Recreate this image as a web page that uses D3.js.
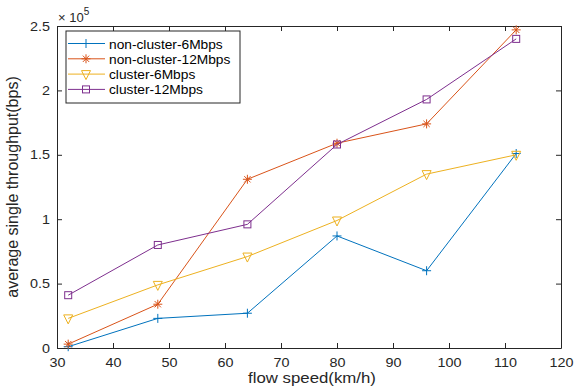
<!DOCTYPE html>
<html>
<head>
<meta charset="utf-8">
<script src="https://cdn.jsdelivr.net/npm/d3@7"></script>
<style>
  body { margin: 0; background: #fff; }
  text { font-family: "Liberation Sans", Arial, sans-serif; }
</style>
</head>
<body>
<div id="chart"></div>
<script>
var width = 575;
var height = 390;

// chart data (values in units of 1e5 bps)
var speeds = [32, 48, 64, 80, 96, 112];
var nonCluster6 = [0.01, 0.23, 0.27, 0.87, 0.60, 1.51];
var nonCluster12 = [0.03, 0.34, 1.31, 1.59, 1.74, 2.47];
var cluster6 = [0.23, 0.49, 0.71, 0.99, 1.35, 1.50];
var cluster12 = [0.41, 0.80, 0.96, 1.58, 1.93, 2.40];
var xTicks = [30, 40, 50, 60, 70, 80, 90, 100, 110, 120];
var yTicks = [0, 0.5, 1, 1.5, 2, 2.5];

var series = [
  {name: "non-cluster-6Mbps", values: nonCluster6, color: "#0072BD", marker: "plus"},
  {name: "non-cluster-12Mbps", values: nonCluster12, color: "#D95319", marker: "star"},
  {name: "cluster-6Mbps", values: cluster6, color: "#EDB120", marker: "tri"},
  {name: "cluster-12Mbps", values: cluster12, color: "#7E2F8E", marker: "square"}
];

var margin = {top: 26, right: 14, bottom: 42, left: 57};

var svg = d3.select("#chart").append("svg")
  .attr("width", width)
  .attr("height", height);

var x = d3.scaleLinear().domain([30, 120]).range([margin.left, width - margin.right]);
var y = d3.scaleLinear().domain([0, 2.5]).range([height - margin.bottom, margin.top]);

var axisColor = "#262626";

// axes, matlab style ticks pointing in
svg.append("g")
  .attr("transform", "translate(0," + y(0) + ")")
  .call(d3.axisBottom(x).tickValues(xTicks).tickSizeInner(-5).tickSizeOuter(0).tickPadding(10));
svg.append("g")
  .attr("transform", "translate(0," + y(2.5) + ")")
  .call(d3.axisTop(x).tickValues(xTicks).tickSizeInner(-5).tickSizeOuter(0).tickFormat(""));
svg.append("g")
  .attr("transform", "translate(" + x(30) + ",0)")
  .call(d3.axisLeft(y).tickValues(yTicks).tickSizeInner(-5).tickSizeOuter(0).tickPadding(6)
    .tickFormat(function(d) { return d; }));
svg.append("g")
  .attr("transform", "translate(" + x(120) + ",0)")
  .call(d3.axisRight(y).tickValues(yTicks).tickSizeInner(-5).tickSizeOuter(0).tickFormat(""));

svg.selectAll(".domain").attr("stroke", axisColor);
svg.selectAll(".tick line").attr("stroke", axisColor);
// the reference text is a little wider than tall, so stretch it sideways
svg.selectAll(".tick text").attr("fill", axisColor).style("font-size", "12.5px")
  .style("font-family", "'Liberation Sans', Arial, sans-serif")
  .attr("transform", "scale(1.15,1)");

// exponent label
var expo = svg.append("text")
  .attr("x", x(30) + 1)
  .attr("y", 22)
  .attr("fill", axisColor)
  .style("font-size", "13px");
expo.append("tspan").text("\u00d7 10");
expo.append("tspan").attr("dy", -7).style("font-size", "10px").text("5");

// axis labels
svg.append("text")
  .attr("transform", "translate(" + ((x(30) + x(120)) / 2 + 3) + "," + (height - 7) + ") scale(1.2,1)")
  .attr("text-anchor", "middle")
  .attr("fill", axisColor)
  .style("font-size", "14px")
  .text("flow speed(km/h)");

svg.append("text")
  .attr("transform", "translate(18," + ((y(0) + y(2.5)) / 2) + ") rotate(-90)")
  .attr("text-anchor", "middle")
  .attr("fill", axisColor)
  .style("font-size", "16px")
  .text("average single throughput(bps)");

var line = d3.line()
  .x(function(d, i) { return x(speeds[i]); })
  .y(function(d) { return y(d); });

function drawMarker(g, type, color) {
  var s = 4.5;
  if (type == "plus") {
    g.append("path").attr("d", "M" + (-s) + ",0H" + s + "M0," + (-s) + "V" + s)
      .attr("stroke", color).attr("fill", "none");
  } else if (type == "star") {
    g.append("path").attr("d", "M" + (-s) + ",0H" + s + "M0," + (-s) + "V" + s +
        "M" + (-s * 0.7) + "," + (-s * 0.7) + "L" + (s * 0.7) + "," + (s * 0.7) +
        "M" + (-s * 0.7) + "," + (s * 0.7) + "L" + (s * 0.7) + "," + (-s * 0.7))
      .attr("stroke", color).attr("fill", "none");
  } else if (type == "tri") {
    g.append("path").attr("d", "M" + (-s) + "," + (-s + 1) + "L" + s + "," + (-s + 1) + "L0," + (s + 1) + "Z")
      .attr("stroke", color).attr("fill", "none");
  } else {
    g.append("rect").attr("x", -3.5).attr("y", -3.5).attr("width", 7).attr("height", 7)
      .attr("stroke", color).attr("fill", "none");
  }
}

series.forEach(function(s) {
  svg.append("path")
    .datum(s.values)
    .attr("d", line)
    .attr("fill", "none")
    .attr("stroke", s.color)
    .attr("stroke-width", 1);
  s.values.forEach(function(v, i) {
    var g = svg.append("g").attr("transform", "translate(" + x(speeds[i]) + "," + y(v) + ")");
    drawMarker(g, s.marker, s.color);
  });
});

// legend
var legend = svg.append("g").attr("transform", "translate(66,31)");
legend.append("rect")
  .attr("width", 174).attr("height", 72)
  .attr("fill", "#fff").attr("stroke", axisColor).attr("stroke-width", 1);
series.forEach(function(s, i) {
  var ly = 12.5 + i * 15.3;
  legend.append("line").attr("x1", 2).attr("x2", 39).attr("y1", ly).attr("y2", ly)
    .attr("stroke", s.color);
  drawMarker(legend.append("g").attr("transform", "translate(20," + ly + ")"), s.marker, s.color);
  legend.append("text").attr("transform", "translate(43," + (ly + 5) + ") scale(1.1,1)")
    .attr("fill", "#000").style("font-size", "12.5px").text(s.name);
});
</script>
</body>
</html>
